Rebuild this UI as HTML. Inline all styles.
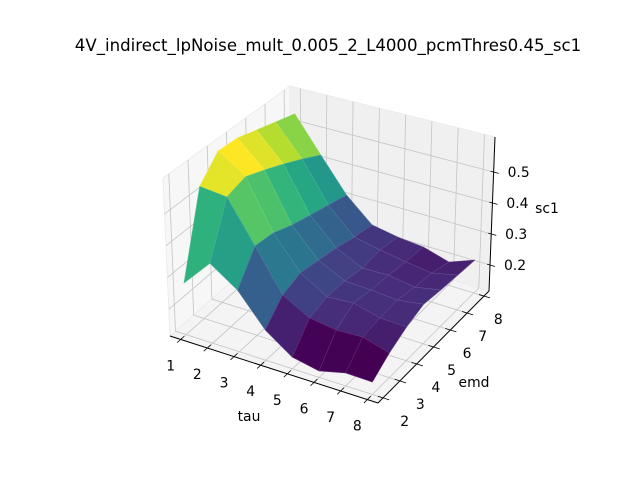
<!DOCTYPE html>
<html><head><meta charset="utf-8"><style>
html,body{margin:0;padding:0;background:#fff;}
svg{display:block;font-family:"DejaVu Sans","Liberation Sans",sans-serif;}
</style></head><body>
<svg id="chart" width="640" height="480" viewBox="0 0 640 480">
<rect width="640" height="480" fill="#fff"/>
<text x="328" y="51" text-anchor="middle" font-size="16.6" fill="#000">4V_indirect_lpNoise_mult_0.005_2_L4000_pcmThres0.45_sc1</text>
<g id="panes"></g><g id="grid"></g><g id="axes"></g><g id="surface"></g><g id="labels"></g>
</svg>
<script>
const tauValues = [1,2,3,4,5,6,7,8];
const emdValues = [2,3,4,5,6,7,8];
const tauTicks = ["1","2","3","4","5","6","7","8"];
const emdTicks = ["2","3","4","5","6","7","8"];
const zTickValues = [0.2,0.3,0.4,0.5];
const zTickLabels = ["0.2","0.3","0.4","0.5"];
const scTau1 = [0.278,0.537,0.605,0.602,0.582,0.562,0.541];
const scTau2 = [0.364,0.525,0.544,0.520,0.492,0.460,0.424];
const scTau3 = [0.305,0.394,0.388,0.365,0.348,0.331,0.313];
const scTau4 = [0.208,0.266,0.286,0.277,0.266,0.250,0.238];
const scTau5 = [0.151,0.220,0.236,0.236,0.226,0.233,0.223];
const scTau6 = [0.135,0.208,0.241,0.232,0.228,0.219,0.215];
const scTau7 = [0.154,0.211,0.220,0.225,0.215,0.208,0.191];
const scTau8 = [0.152,0.188,0.216,0.236,0.230,0.226,0.222];
const Z = [scTau1,scTau2,scTau3,scTau4,scTau5,scTau6,scTau7,scTau8];

const NS="http://www.w3.org/2000/svg";
const tauLim=[0.6,8.4], emdLim=[1.7,8.3], zLim=[0.116,0.613];
const botC={A:[170,336],B:[378,403],C:[489,291],D:[290,230]};
const topC={A:[163,178],B:[377,229],C:[495,137],D:[290,86]};
function bil(c,s,r){return [c.A[0]*(1-s)*(1-r)+c.B[0]*s*(1-r)+c.C[0]*s*r+c.D[0]*(1-s)*r,
 c.A[1]*(1-s)*(1-r)+c.B[1]*s*(1-r)+c.C[1]*s*r+c.D[1]*(1-s)*r];}
function P(s,r,w){const a=bil(botC,s,r),b=bil(topC,s,r);return [a[0]+(b[0]-a[0])*w,a[1]+(b[1]-a[1])*w];}
const sx=t=>(t-tauLim[0])/(tauLim[1]-tauLim[0]);
const ry=e=>(e-emdLim[0])/(emdLim[1]-emdLim[0]);
const wz=z=>(z-zLim[0])/(zLim[1]-zLim[0]);
function el(tag,attrs,parent){const e=document.createElementNS(NS,tag);for(const k in attrs)e.setAttribute(k,attrs[k]);parent.appendChild(e);return e;}
function pts(arr){return arr.map(p=>p[0].toFixed(2)+","+p[1].toFixed(2)).join(" ");}

const panes=document.getElementById('panes');
let pe;
pe=el('polygon',{points:pts([P(0,0,0),P(1,0,0),P(1,1,0),P(0,1,0)]),fill:'#f4f4f4',stroke:'#ececec','stroke-width':1},panes);


pe=el('polygon',{points:pts([P(0,0,0),P(0,1,0),P(0,1,1),P(0,0,1)]),fill:'#f7f7f7',stroke:'#ececec','stroke-width':1},panes);


pe=el('polygon',{points:pts([P(0,1,0),P(1,1,0),P(1,1,1),P(0,1,1)]),fill:'#f0f0f0',stroke:'#ececec','stroke-width':1},panes);



const grid=document.getElementById('grid');
function gl(a,b,name){const l=el('line',{x1:a[0],y1:a[1],x2:b[0],y2:b[1],stroke:'#c4c4c4','stroke-width':0.8},grid);

}
tauValues.forEach(t=>{const s=sx(t);gl(P(s,0,0),P(s,1,0),'tau-gridline');gl(P(s,1,0),P(s,1,1),'tau-gridline');});
emdValues.forEach(v=>{const r=ry(v);gl(P(0,r,0),P(1,r,0),'emd-gridline');gl(P(0,r,0),P(0,r,1),'emd-gridline');});
zTickValues.forEach(z=>{const w=wz(z);gl(P(0,0,w),P(0,1,w),'z-gridline');gl(P(0,1,w),P(1,1,w),'z-gridline');});

const axes=document.getElementById('axes');
function al(a,b,name,wd){const l=el('line',{x1:a[0],y1:a[1],x2:b[0],y2:b[1],stroke:'#000','stroke-width':wd},axes);

}
al(P(0,0,0),P(1,0,0),'tau-axis-line',1);
al(P(1,0,0),P(1,1,0),'emd-axis-line',1);
al(P(1,1,0),P(1,1,1),'z-axis-line',1);
const labels=document.getElementById('labels');
function tx(x,y,str,name,size){const t=el('text',{x:x,y:y,'text-anchor':'middle','dominant-baseline':'central','font-size':size,fill:'#000'},labels);t.textContent=str;

}
tauValues.forEach((t,i)=>{const s=sx(t);al(P(s,0.03,0),P(s,-0.03,0),'tau-tick',0.8);const p=P(s,0,0);tx(p[0]-10,p[1]+27,tauTicks[i],'tau-tick-label',13.9);});
emdValues.forEach((v,i)=>{const r=ry(v);al(P(0.975,r,0),P(1.03,r,0),'emd-tick',0.8);const p=P(1,r,0);tx(p[0]+22-8*r,p[1]+24,emdTicks[i],'emd-tick-label',13.9);});
zTickValues.forEach((z,i)=>{const w=wz(z);al(P(0.985,1,w),P(1.025,1,w),'z-tick',0.8);const p=P(1,1,w);tx(p[0]+25,p[1]+1,zTickLabels[i],'z-tick-label',13.9);});
tx(249,417,'tau','tau-axis-title',13.9);
tx(474,383,'emd','emd-axis-title',13.9);
tx(547,209,'sc1','z-axis-title',13.9);

const vir=[[68,1,84],[71,45,123],[59,82,139],[44,114,142],[33,145,140],[40,174,128],[94,201,98],[173,220,48],[253,231,37]];
function viridis(v){v=Math.max(0,Math.min(1,v));const f=v*8,i=Math.min(7,Math.floor(f)),t=f-i;const a=vir[i],b=vir[i+1];
return 'rgb('+a.map((c,k)=>Math.round(c+(b[k]-c)*t)).join(',')+')';}
const quads=[];
for(let i=0;i<tauValues.length-1;i++)for(let j=0;j<emdValues.length-1;j++){
 const avg=(Z[i][j]+Z[i+1][j]+Z[i+1][j+1]+Z[i][j+1])/4;
 const sc=(sx(tauValues[i])+sx(tauValues[i+1]))/2, rc=(ry(emdValues[j])+ry(emdValues[j+1]))/2;
 quads.push({i,j,avg,depth:sc-rc+0.3*wz(avg)});}
const mn=Math.min(...quads.map(q=>q.avg)),mx=Math.max(...quads.map(q=>q.avg));
quads.sort((a,b)=>a.depth-b.depth);
const surf=document.getElementById('surface');
quads.forEach(q=>{const i=q.i,j=q.j;
 const c=[[i,j],[i+1,j],[i+1,j+1],[i,j+1]].map(([a,b])=>P(sx(tauValues[a]),ry(emdValues[b]),wz(Z[a][b])));
 const col=viridis((q.avg-mn)/(mx-mn));
 const p=el('polygon',{points:pts(c),fill:col,stroke:col,'stroke-width':0.6,'stroke-linejoin':'round'},surf);
 
 
 const o=el('polygon',{points:pts(c),fill:'none',stroke:'rgba(255,255,255,0.22)','stroke-width':0.5},surf);
 
 
});
</script>
</body></html>
